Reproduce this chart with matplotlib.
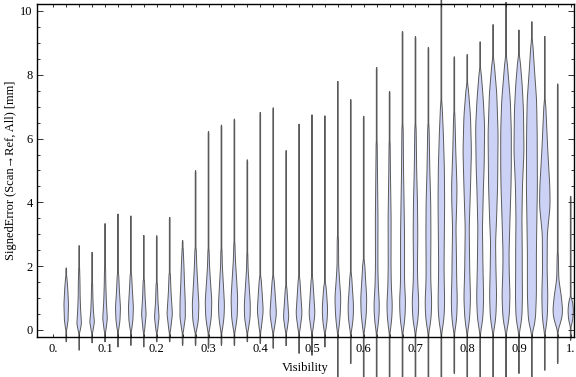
import numpy as np
import matplotlib
matplotlib.use('Agg')
import matplotlib.pyplot as plt

# visibility bins (one violin each)
visibility = [0.025, 0.05, 0.075, 0.1, 0.125, 0.15, 0.175, 0.2, 0.225, 0.25,
              0.275, 0.3, 0.325, 0.35, 0.375, 0.4, 0.425, 0.45, 0.475, 0.5,
              0.525, 0.55, 0.575, 0.6, 0.625, 0.65, 0.675, 0.7, 0.725, 0.75,
              0.775, 0.8, 0.825, 0.85, 0.875, 0.9, 0.925, 0.95, 0.975, 1.0]

# max / min signed error per bin [mm]
err_max = [1.95, 2.65, 2.44, 3.34, 3.64, 3.58, 2.97, 2.96, 3.54, 2.81,
           5.0, 6.23, 6.43, 6.62, 5.34, 6.83, 6.97, 5.63, 6.46, 6.75,
           6.72, 7.8, 7.23, 6.71, 8.24, 7.49, 9.37, 9.21, 8.87, 10.4,
           8.57, 8.64, 9.04, 9.58, 10.28, 9.41, 9.67, 9.21, 7.72, 4.2]
err_min = [-0.38, -0.64, -0.41, -0.38, -0.54, -0.49, -0.54, -0.38, -0.38, -0.49,
           -0.5, -0.58, -0.49, -0.5, -0.38, -0.43, -0.58, -0.5, -0.74, -0.8,
           -0.54, -1.6, -1.06, -1.6, -1.6, -1.6, -1.6, -1.6, -1.6, -1.6,
           -1.37, -1.6, -1.6, -1.6, -1.5, -1.37, -1.6, -1.27, -1.06, -0.33]

# density outline: (error, half width in pixels)
profiles = [
    [(0.0, 0.5), (0.3, 1.8), (0.8, 2.3), (1.3, 1.5), (1.7, 0.5)],
    [(-0.1, 0.5), (0.2, 2.3), (0.6, 1.5), (1.0, 1.0), (1.5, 0.8), (2.0, 0.4)],
    [(-0.1, 0.5), (0.25, 2.3), (0.6, 1.3), (1.0, 0.8), (1.5, 0.5)],
    [(-0.1, 0.5), (0.35, 2.3), (0.9, 1.3), (1.4, 0.8), (2.0, 0.5)],
    [(-0.05, 0.5), (0.3, 2.0), (0.7, 2.5), (1.2, 1.5), (1.8, 0.6)],
    [(-0.05, 0.5), (0.3, 2.0), (0.7, 2.5), (1.3, 1.4), (1.8, 0.6)],
    [(-0.1, 0.5), (0.5, 2.3), (1.0, 1.3), (1.6, 0.6)],
    [(-0.1, 0.5), (0.4, 2.3), (0.9, 1.2), (1.5, 0.6)],
    [(-0.1, 0.5), (0.5, 2.7), (1.2, 1.3), (1.8, 0.6)],
    [(-0.1, 0.5), (0.4, 2.7), (0.9, 2.6), (1.5, 1.8), (2.0, 1.3), (2.6, 0.5)],
    [(-0.1, 0.5), (0.3, 2.8), (0.8, 3.3), (1.4, 2.2), (2.0, 1.2), (2.6, 0.6)],
    [(-0.1, 0.5), (0.4, 2.8), (0.9, 3.3), (1.5, 2.0), (2.0, 1.0), (2.6, 0.5)],
    [(-0.1, 0.5), (0.4, 2.6), (0.8, 3.0), (1.5, 1.8), (2.0, 0.9), (2.6, 0.5)],
    [(-0.1, 0.5), (0.4, 2.8), (1.0, 3.3), (1.6, 2.2), (2.2, 1.0), (2.8, 0.5)],
    [(-0.1, 0.5), (0.4, 2.8), (0.8, 3.0), (1.4, 1.8), (1.9, 0.8), (2.5, 0.4)],
    [(-0.1, 0.5), (0.6, 3.0), (1.2, 1.8), (1.7, 0.7)],
    [(-0.1, 0.5), (0.5, 3.3), (1.1, 2.0), (1.7, 0.7)],
    [(-0.1, 0.5), (0.4, 2.7), (1.0, 1.4), (1.4, 0.6)],
    [(-0.1, 0.5), (0.5, 3.0), (1.1, 1.8), (1.7, 0.6)],
    [(-0.1, 0.5), (0.5, 3.0), (1.1, 1.8), (1.7, 0.6)],
    [(-0.1, 0.5), (0.3, 2.2), (0.66, 2.7), (1.1, 1.8), (1.5, 0.7)],
    [(-0.1, 0.5), (0.4, 2.2), (1.0, 3.0), (1.5, 1.8), (2.0, 0.8), (3.0, 0.6)],
    [(-0.1, 0.5), (0.4, 2.5), (0.8, 2.7), (1.3, 1.6), (1.8, 0.7)],
    [(-0.1, 0.5), (0.5, 2.6), (1.0, 3.0), (1.6, 1.8), (2.2, 0.8)],
    [(-0.1, 0.5), (0.4, 2.3), (0.8, 2.7), (1.4, 1.6), (2.0, 1.2), (3.5, 1.3), (5.0, 0.8), (6.0, 0.5)],
    [(-0.1, 0.5), (0.4, 2.3), (0.8, 2.7), (1.4, 1.7), (2.0, 1.4), (3.5, 1.5), (5.0, 0.8), (6.0, 0.5)],
    [(-0.1, 0.5), (0.4, 2.5), (0.9, 3.0), (1.5, 2.0), (2.0, 2.0), (3.0, 2.0), (4.0, 1.5), (5.0, 1.0), (6.5, 0.6)],
    [(-0.1, 0.5), (0.4, 2.8), (0.9, 3.3), (1.5, 2.2), (2.0, 2.0), (3.0, 2.3), (4.0, 2.0), (5.0, 1.2), (6.5, 0.6)],
    [(-0.1, 0.5), (0.4, 2.8), (0.9, 3.3), (1.5, 2.4), (2.0, 2.3), (3.0, 2.5), (4.0, 2.3), (5.0, 1.4), (6.5, 0.6)],
    [(-0.1, 0.5), (0.4, 2.8), (0.9, 3.3), (1.5, 2.9), (2.0, 2.7), (3.0, 3.0), (4.0, 3.3), (5.1, 3.0), (6.15, 2.0), (7.2, 0.6)],
    [(-0.1, 0.5), (0.4, 2.5), (0.95, 3.0), (1.6, 2.4), (2.2, 2.2), (3.2, 1.7), (4.0, 2.5), (4.5, 2.7), (5.6, 1.5), (6.9, 0.5)],
    [(-0.1, 0.5), (0.4, 2.5), (1.0, 3.3), (1.9, 2.5), (3.2, 2.0), (4.5, 3.3), (5.6, 4.2), (6.7, 3.3), (7.7, 0.8)],
    [(-0.1, 0.5), (0.4, 2.8), (1.0, 3.5), (2.0, 2.8), (3.2, 2.3), (4.5, 3.3), (5.1, 4.0), (6.35, 4.5), (7.2, 3.2), (8.2, 0.7)],
    [(-0.1, 0.5), (0.4, 2.8), (1.08, 3.5), (2.0, 2.8), (2.75, 2.5), (3.5, 3.5), (4.5, 4.5), (6.15, 5.0), (7.4, 3.7), (8.5, 0.8)],
    [(-0.1, 0.5), (0.4, 3.2), (1.08, 4.0), (1.8, 3.2), (2.4, 3.0), (3.5, 4.0), (4.5, 5.0), (5.1, 5.3), (6.25, 5.3), (7.2, 4.3), (8.55, 0.8)],
    [(-0.1, 0.5), (0.4, 3.0), (1.08, 3.5), (1.8, 3.3), (2.4, 3.3), (3.5, 3.0), (4.5, 3.5), (5.6, 5.0), (6.9, 4.5), (7.7, 3.2), (8.6, 0.8)],
    [(-0.1, 0.5), (0.3, 3.5), (1.08, 4.5), (2.4, 4.5), (3.5, 5.0), (4.5, 5.5), (6.15, 5.3), (7.2, 4.7), (8.2, 2.5), (9.1, 0.7)],
    [(-0.1, 0.5), (0.4, 2.5), (1.08, 3.0), (1.9, 2.3), (3.0, 2.5), (3.9, 5.3), (4.5, 5.0), (5.6, 3.0), (7.2, 0.7)],
    [(0.0, 0.5), (0.3, 3.5), (0.55, 5.0), (1.0, 3.8), (1.6, 1.0), (2.5, 0.5)],
    [(0.1, 0.5), (0.35, 2.2), (0.61, 2.7), (0.85, 2.0), (1.05, 0.5)],
]

xtick_vals = [0.0, 0.1, 0.2, 0.3, 0.4, 0.5, 0.6, 0.7, 0.8, 0.9, 1.0]
xtick_text = ['0.', '0.1', '0.2', '0.3', '0.4', '0.5', '0.6', '0.7', '0.8', '0.9', '1.']

plt.rcParams['font.family'] = ['Liberation Serif', 'DejaVu Serif']

fig = plt.figure(figsize=(5.76, 3.77), dpi=100)
ax = fig.add_axes([37 / 576, 1 - 337.3 / 377, 537 / 576, 333 / 377])

px = 1.0 / 517.4  # one pixel in x data units
for pos, lo, hi, prof in zip(visibility, err_min, err_max, profiles):
    ky = np.array([p[0] for p in prof])
    kw = np.array([p[1] for p in prof])
    y = np.linspace(lo, hi, 600)
    w = np.interp(y, ky, kw, left=0.0, right=0.0)
    k = np.ones(25) / 25.0
    w = np.convolve(np.pad(w, 12, mode='edge'), k, mode='valid')
    w = np.maximum(w, 0.35)
    w = w * np.clip(np.minimum(y - lo, hi - y) / 0.06, 0, 1)
    xs = np.concatenate([pos - w * px, (pos + w * px)[::-1]])
    ys = np.concatenate([y, y[::-1]])
    ax.fill(xs, ys, facecolor='#ccd2f5', edgecolor='#5a5a5a', lw=0.7, clip_on=False, zorder=1)

ax.set_xlim(-0.0315, 1.0064)
ax.set_ylim(-0.23, 10.21)

ax.set_xticks(xtick_vals)
ax.set_xticklabels(xtick_text)
ax.set_xticks(visibility, minor=True)
ax.set_yticks([0, 2, 4, 6, 8, 10])
ax.set_yticks(np.arange(0, 10.5, 0.5), minor=True)

ax.tick_params(which='both', direction='in', top=True, right=True, labelsize=9, width=0.7, color='#333333')
ax.tick_params(axis='x', which='both', length=2.3, pad=4)
ax.tick_params(axis='y', which='major', length=4.2, pad=3)
ax.tick_params(axis='y', which='minor', length=2.3)
for s in ax.spines.values():
    s.set_linewidth(1.0)

ax.set_xlabel('Visibility', fontsize=9)
ax.xaxis.set_label_coords(0.5, -0.075)
ax.set_ylabel('SignedError (Scan\u2192Ref, All) [mm]', fontsize=9)
ax.yaxis.set_label_coords(-0.038, 0.5)

fig.savefig('out.png', dpi=100)
